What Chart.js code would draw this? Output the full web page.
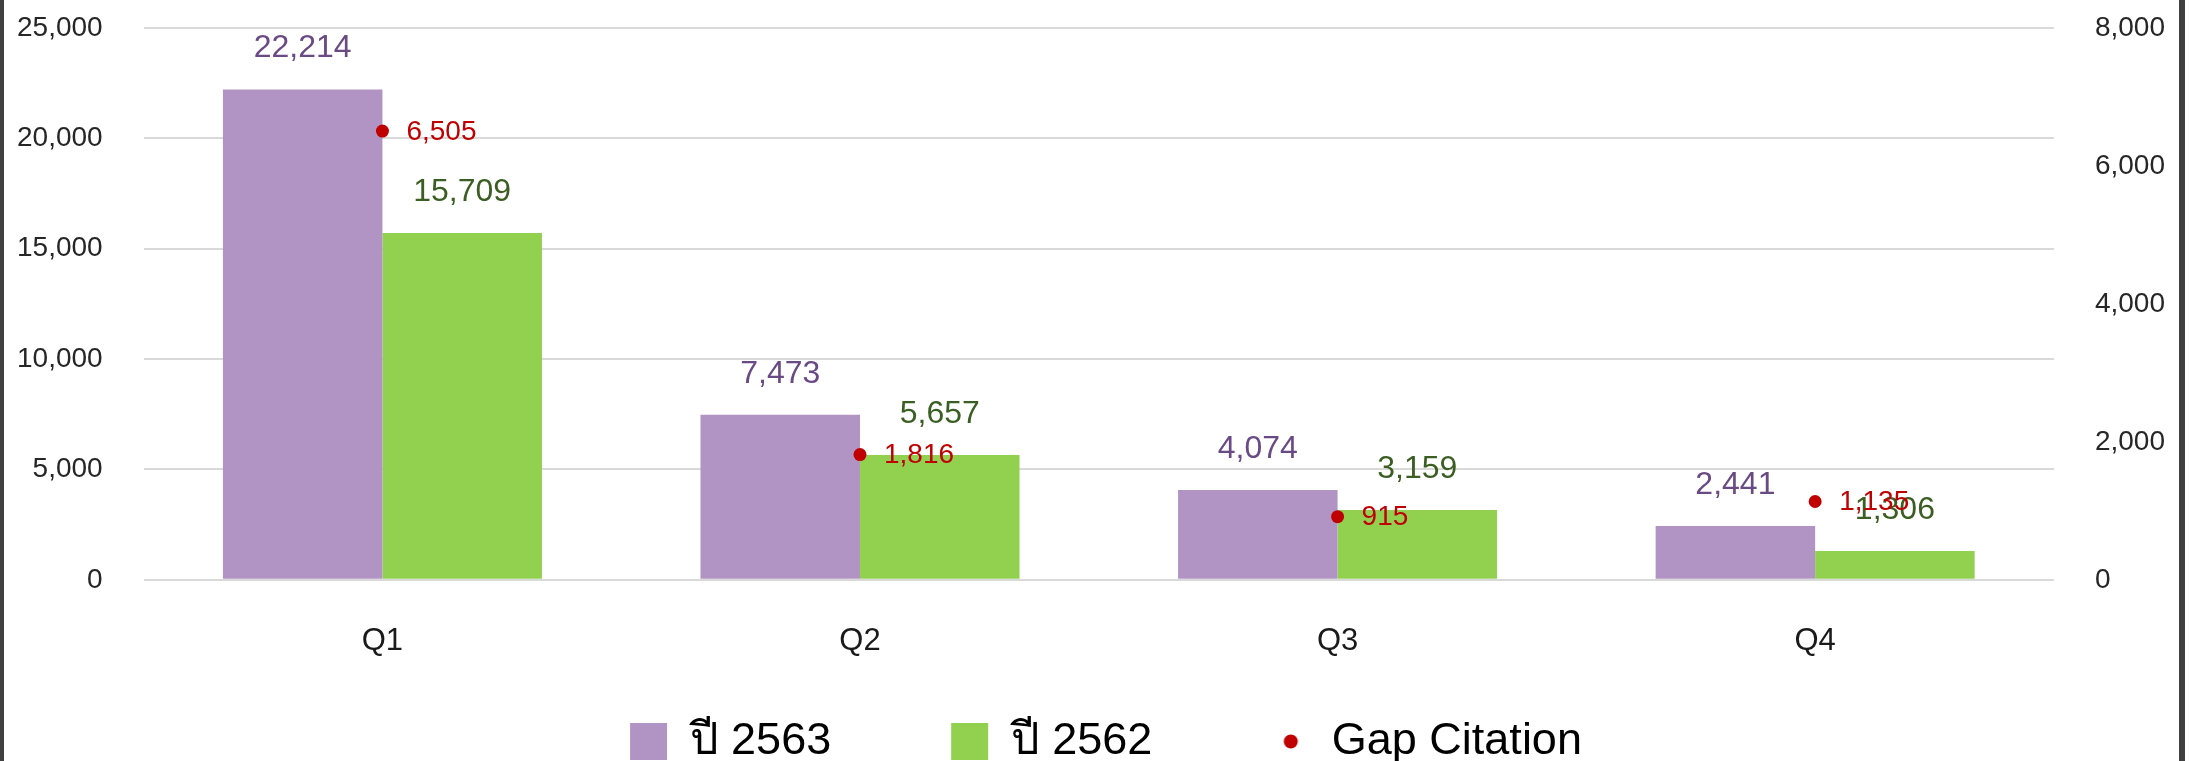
<!DOCTYPE html>
<html lang="th">
<head>
<meta charset="UTF-8">
<title>Gap Citation</title>
<script src="https://cdn.jsdelivr.net/npm/chart.js"></script>
<style>
    html, body {
        margin: 0;
        padding: 0;
        background: #fff;
        overflow: hidden;
    }
    body {
        width: 2193px;
        height: 761px;
        position: relative;
    }
    /* dark frame edges seen on both sides */
    .frame {
        position: absolute;
        left: 0;
        top: 0;
        width: 2175px;
        height: 860px;
        border-left: 4px solid #404040;
        border-right: 6px solid #404040;
    }
    .chart-box {
        position: relative;
        width: 2175px;
        height: 860px;
    }
</style>
</head>
<body>
<div class="frame">
    <div class="chart-box">
        <canvas id="gapChart"></canvas>
    </div>
</div>

<script>
// data
const quarters = ['Q1', 'Q2', 'Q3', 'Q4'];
const year2563 = [22214, 7473, 4074, 2441];
const year2562 = [15709, 5657, 3159, 1306];
const gapCitation = [6505, 1816, 915, 1135];
const seriesNames = ['ปี 2563', 'ปี 2562', 'Gap Citation'];

const FONT = '"Liberation Sans", "Noto Sans", "DejaVu Sans", sans-serif';
const fmt = v => Number(v).toLocaleString('en-US');

// small red dot used as legend marker
const dotMarker = document.createElement('canvas');
dotMarker.width = 37;
dotMarker.height = 37;
(function () {
    const c = dotMarker.getContext('2d');
    c.fillStyle = '#C00000';
    c.beginPath();
    c.arc(18.5, 18.5, 7, 0, Math.PI * 2);
    c.fill();
})();

// value labels above bars / right of dots
const valueLabels = {
    id: 'valueLabels',
    afterDatasetsDraw(chart) {
        const ctx = chart.ctx;
        chart.data.datasets.forEach((ds, i) => {
            const meta = chart.getDatasetMeta(i);
            if (meta.hidden) return;
            meta.data.forEach((el, j) => {
                const txt = fmt(ds.data[j]);
                ctx.save();
                ctx.fillStyle = ds.labelColor;
                ctx.textBaseline = 'middle';
                if (meta.type === 'bar') {
                    ctx.font = '32px ' + FONT;
                    ctx.textAlign = 'center';
                    ctx.fillText(txt, el.x, el.y - 41);
                } else {
                    ctx.font = '28px ' + FONT;
                    ctx.textAlign = 'left';
                    ctx.fillText(txt, el.x + 24, el.y + 1);
                }
                ctx.restore();
            });
        });
    }
};

// move the legend up into the space under the axis labels
const legendPlacer = {
    id: 'legendPlacer',
    afterLayout(chart) {
        const lg = chart.legend;
        if (!lg) return;
        const dy = 599 - lg.top;
        lg.top += dy;
        lg.bottom += dy;
        lg.left += 15;
        lg.right += 15;
    }
};

// Chart.js reserves tick padding on both sides of the labels; keep only the inner one
const trimAxis = scale => {
    const pad = scale.options.ticks.padding;
    if (scale.isHorizontal()) {
        scale.height -= pad;
    } else {
        scale.width -= pad;
    }
    scale.paddingTop = 0;
    scale.paddingBottom = 0;
    scale.paddingLeft = 0;
    scale.paddingRight = 0;
};

const ctx = document.getElementById('gapChart').getContext('2d');
const gapChart = new Chart(ctx, {
    type: 'bar',
    data: {
        labels: quarters,
        datasets: [{
            label: seriesNames[0],
            data: year2563,
            backgroundColor: '#B294C4',
            labelColor: '#6A4A84',
            yAxisID: 'y',
            order: 2,
            categoryPercentage: 0.668,
            barPercentage: 1.0
        }, {
            label: seriesNames[1],
            data: year2562,
            backgroundColor: '#92D050',
            labelColor: '#3B5E23',
            yAxisID: 'y',
            order: 2,
            categoryPercentage: 0.668,
            barPercentage: 1.0
        }, {
            type: 'line',
            label: seriesNames[2],
            data: gapCitation,
            showLine: false,
            backgroundColor: '#C00000',
            borderColor: '#C00000',
            pointRadius: 6.5,
            pointBorderWidth: 0,
            labelColor: '#C00000',
            yAxisID: 'y1',
            order: 1
        }]
    },
    options: {
        responsive: true,
        maintainAspectRatio: false,
        animation: false,
        layout: {
            padding: { left: 13, right: 14, top: 28, bottom: 25 }
        },
        plugins: {
            tooltip: { enabled: false },
            legend: {
                position: 'bottom',
                labels: {
                    font: { size: 45, family: FONT },
                    color: '#000',
                    boxWidth: 37,
                    boxHeight: 37,
                    padding: 120,
                    usePointStyle: true,
                    sort: (a, b) => a.datasetIndex - b.datasetIndex,
                    generateLabels(chart) {
                        const items = Chart.defaults.plugins.legend.labels.generateLabels(chart);
                        items.forEach(it => {
                            it.pointStyle = it.datasetIndex === 2 ? dotMarker : 'rect';
                            it.lineWidth = 0;
                        });
                        return items;
                    }
                }
            }
        },
        scales: {
            x: {
                grid: { display: false },
                border: { display: false },
                ticks: {
                    color: '#1a1a1a',
                    font: { size: 31, family: FONT },
                    padding: 35
                },
                afterFit: trimAxis
            },
            y: {
                position: 'left',
                min: 0,
                max: 25000,
                border: { display: false },
                grid: { color: '#D9D9D9', lineWidth: 2, drawTicks: false },
                ticks: {
                    stepSize: 5000,
                    color: '#262626',
                    font: { size: 28, family: FONT },
                    padding: 41,
                    callback: v => fmt(v)
                },
                afterFit: trimAxis
            },
            y1: {
                position: 'right',
                min: 0,
                max: 8000,
                border: { display: false },
                grid: { display: false, drawTicks: false },
                ticks: {
                    stepSize: 2000,
                    color: '#262626',
                    font: { size: 28, family: FONT },
                    padding: 41,
                    callback: v => fmt(v)
                },
                afterFit: trimAxis
            }
        }
    },
    plugins: [valueLabels, legendPlacer]
});
</script>
</body>
</html>
